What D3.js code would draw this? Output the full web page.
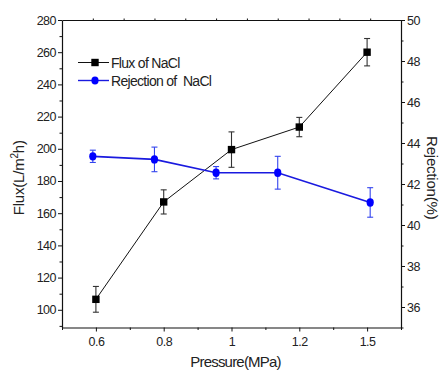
<!DOCTYPE html>
<html>
<head>
<meta charset="utf-8">
<script src="https://cdn.jsdelivr.net/npm/d3@7"></script>
<style>
  html, body { margin: 0; padding: 0; background: #fff; }
  svg { display: block; font-family: Arial, "Liberation Sans", sans-serif; }
  .tick text { font-size: 12.5px; letter-spacing: -0.5px; fill: #222; }
</style>
</head>
<body>
<svg id="chart" width="443" height="375"></svg>
<script>
// Pressure categories (MPa) and measured values
const pressures = [0.6, 0.8, 1.0, 1.2, 1.5];
const pressureLabels = ["0.6", "0.8", "1", "1.2", "1.5"];
const fluxValues = [106.5, 167, 199.5, 213.5, 260];
const fluxErrors = [8, 7.5, 11, 6, 8.5];
const rejectionValues = [43.35, 43.2, 42.55, 42.55, 41.1];
const rejectionErrors = [0.3, 0.6, 0.3, 0.8, 0.72];
const fluxTicks = [100, 120, 140, 160, 180, 200, 220, 240, 260, 280];
const rejectionTicks = [36, 38, 40, 42, 44, 46, 48, 50];

const svg = d3.select("#chart");
const plotLeft = 62, plotRight = 401, plotTop = 20, plotBottom = 327.5;

// Flux is drawn at evenly spaced category positions, rejection on a linear pressure axis
const xIndex = d3.scaleLinear().domain([-0.5, 4.5]).range([plotLeft, plotRight]);
const xPressure = d3.scaleLinear().domain([0.5, 1.6]).range([plotLeft, plotRight]);
const yFlux = d3.scaleLinear().domain([89, 280]).range([plotBottom, plotTop]);
const yRej = d3.scaleLinear().domain([35, 50]).range([plotBottom, plotTop]);

const axisColor = "#111";

// Bottom axis: major ticks at categories, minor ticks between
svg.append("g").attr("transform", `translate(0,${plotBottom})`)
  .call(d3.axisBottom(xIndex).tickValues(d3.range(pressures.length))
    .tickFormat(i => pressureLabels[i]).tickSize(4).tickPadding(6).tickSizeOuter(0));
svg.append("g").attr("transform", `translate(0,${plotBottom})`)
  .call(d3.axisBottom(xIndex).tickValues([-0.5, 0.5, 1.5, 2.5, 3.5, 4.5]).tickFormat("").tickSize(2.5).tickSizeOuter(0))
  .select(".domain").remove();

// Top border with small upward ticks every 0.1 MPa
svg.append("g").attr("transform", `translate(0,${plotTop})`)
  .call(d3.axisTop(xPressure).tickValues(d3.range(0.6, 1.55, 0.1)).tickFormat("").tickSize(1.5).tickSizeOuter(0));

// Left axis (flux)
svg.append("g").attr("transform", `translate(${plotLeft},0)`)
  .call(d3.axisLeft(yFlux).tickValues(fluxTicks).tickSize(4).tickPadding(2).tickSizeOuter(0));
svg.append("g").attr("transform", `translate(${plotLeft},0)`)
  .call(d3.axisLeft(yFlux).tickValues(d3.range(90, 281, 10).filter(v => v % 20 !== 0)).tickFormat("").tickSize(2.5).tickSizeOuter(0))
  .select(".domain").remove();

// Right axis (rejection)
svg.append("g").attr("transform", `translate(${plotRight},0)`)
  .call(d3.axisRight(yRej).tickValues(rejectionTicks).tickSize(4).tickPadding(2).tickSizeOuter(0));
svg.append("g").attr("transform", `translate(${plotRight},0)`)
  .call(d3.axisRight(yRej).tickValues(d3.range(35, 50, 1).filter(v => v % 2 !== 0)).tickFormat("").tickSize(2.5).tickSizeOuter(0))
  .select(".domain").remove();

svg.selectAll(".domain").attr("stroke", axisColor).attr("stroke-width", 1.2);
svg.selectAll(".tick line").attr("stroke", axisColor);

// Axis titles
svg.append("text").attr("x", (plotLeft + plotRight) / 2 + 4).attr("y", 367)
  .attr("text-anchor", "middle").attr("font-size", 15).attr("letter-spacing", -0.8)
  .attr("fill", "#222").text("Pressure(MPa)");

const yTitle = svg.append("text")
  .attr("transform", `translate(24,${(plotTop + plotBottom) / 2 + 4}) rotate(-90)`)
  .attr("text-anchor", "middle").attr("font-size", 15).attr("letter-spacing", -0.2).attr("fill", "#222");
yTitle.append("tspan").text("Flux(L/m");
yTitle.append("tspan").attr("font-size", 10).attr("dy", -6).text("2");
yTitle.append("tspan").attr("dy", 6).text("h)");

svg.append("text")
  .attr("transform", `translate(427,${(plotTop + plotBottom) / 2 + 4}) rotate(90)`)
  .attr("text-anchor", "middle").attr("font-size", 15).attr("letter-spacing", -0.2)
  .attr("fill", "#222").text("Rejection(%)");

// Flux series (black squares)
const fluxData = pressures.map((p, i) => ({ i, v: fluxValues[i], e: fluxErrors[i] }));
svg.append("path").datum(fluxData)
  .attr("fill", "none").attr("stroke", "#111").attr("stroke-width", 1)
  .attr("d", d3.line().x(d => xIndex(d.i)).y(d => yFlux(d.v)));

const fluxErr = svg.append("g").attr("stroke", "#333").attr("stroke-width", 1.1);
fluxData.forEach(d => {
  const cx = xIndex(d.i), y1 = yFlux(d.v + d.e), y2 = yFlux(d.v - d.e);
  fluxErr.append("line").attr("x1", cx).attr("x2", cx).attr("y1", y1).attr("y2", y2);
  fluxErr.append("line").attr("x1", cx - 3).attr("x2", cx + 3).attr("y1", y1).attr("y2", y1);
  fluxErr.append("line").attr("x1", cx - 3).attr("x2", cx + 3).attr("y1", y2).attr("y2", y2);
});
svg.append("g").selectAll("rect").data(fluxData).join("rect")
  .attr("x", d => xIndex(d.i) - 3.7).attr("y", d => yFlux(d.v) - 3.7)
  .attr("width", 7.4).attr("height", 7.4).attr("fill", "#000");

// Rejection series (blue circles)
const rejData = pressures.map((p, i) => ({ p, v: rejectionValues[i], e: rejectionErrors[i] }));
svg.append("path").datum(rejData)
  .attr("fill", "none").attr("stroke", "#1a1adf").attr("stroke-width", 1.7)
  .attr("d", d3.line().x(d => xPressure(d.p)).y(d => yRej(d.v)));

const rejErr = svg.append("g").attr("stroke", "#3344ee").attr("stroke-width", 1.1);
rejData.forEach(d => {
  const cx = xPressure(d.p), y1 = yRej(d.v + d.e), y2 = yRej(d.v - d.e);
  rejErr.append("line").attr("x1", cx).attr("x2", cx).attr("y1", y1).attr("y2", y2);
  rejErr.append("line").attr("x1", cx - 3).attr("x2", cx + 3).attr("y1", y1).attr("y2", y1);
  rejErr.append("line").attr("x1", cx - 3).attr("x2", cx + 3).attr("y1", y2).attr("y2", y2);
});
svg.append("g").selectAll("ellipse").data(rejData).join("ellipse")
  .attr("cx", d => xPressure(d.p)).attr("cy", d => yRej(d.v))
  .attr("rx", 3.6).attr("ry", 4.2).attr("fill", "#0000ff");

// Legend
const legend = svg.append("g");
const legendRows = [
  { label: "Flux of NaCl", y: 62.5, color: "#000", shape: "square" },
  { label: "Rejection of  NaCl", y: 80.5, color: "#0000ff", shape: "circle" }
];
legendRows.forEach(r => {
  legend.append("line").attr("x1", 78).attr("x2", 109).attr("y1", r.y).attr("y2", r.y)
    .attr("stroke", r.shape === "square" ? "#111" : "#1a1adf").attr("stroke-width", r.shape === "square" ? 1 : 1.4);
  if (r.shape === "square") {
    legend.append("rect").attr("x", 95 - 3.7).attr("y", r.y - 3.7).attr("width", 7.4).attr("height", 7.4).attr("fill", r.color);
  } else {
    legend.append("ellipse").attr("cx", 95).attr("cy", r.y).attr("rx", 3.6).attr("ry", 4).attr("fill", r.color);
  }
  legend.append("text").attr("x", 111).attr("y", r.y + 5)
    .attr("font-size", 14).attr("letter-spacing", -0.7).attr("fill", "#222")
    .style("white-space", "pre").text(r.label);
});
</script>
</body>
</html>
